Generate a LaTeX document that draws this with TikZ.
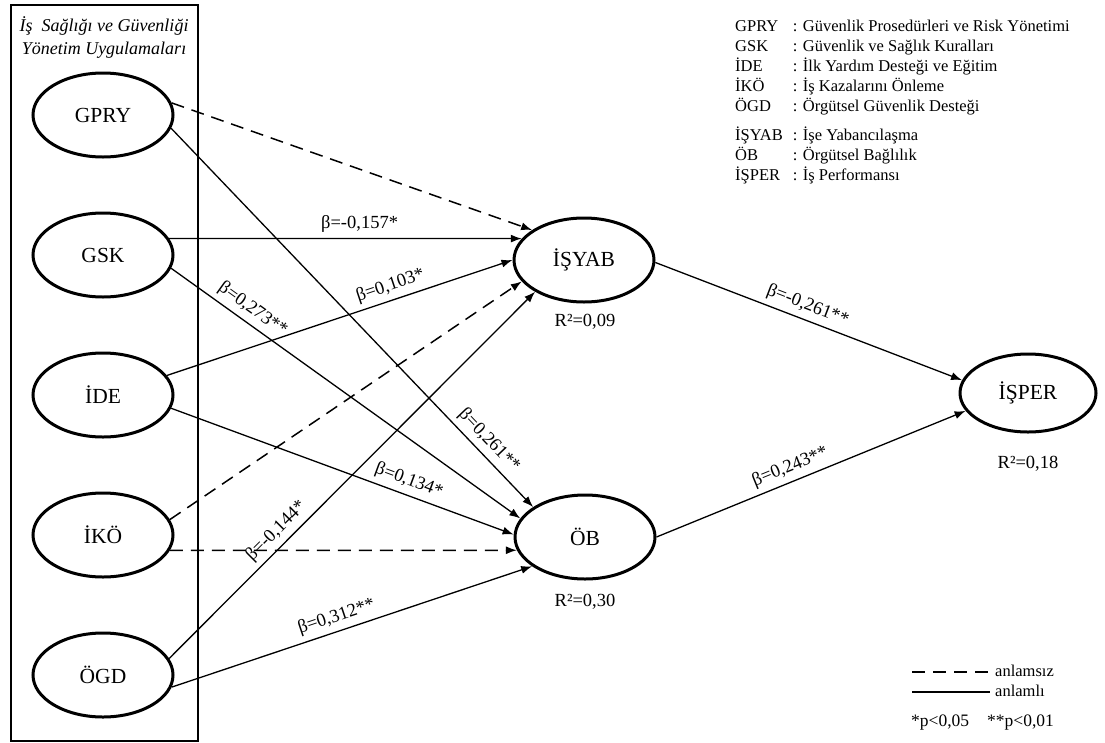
\documentclass[tikz,border=0pt]{standalone}
\usepackage{fontspec}
\setmainfont{Liberation Serif}
\usetikzlibrary{shapes.geometric,arrows.meta}

\begin{document}
\begin{tikzpicture}[x=1pt,y=-1pt]
\tikzset{elips/.style={draw, ellipse, line width=3pt, minimum width=140pt, minimum height=84pt, font=\fontsize{21.5}{24}\selectfont}}
\tikzset{yol/.style={line width=1.3pt, -{Latex[length=11pt,width=8pt]}}}
\tikzset{bos/.style={yol, line width=1.5pt, dash pattern=on 13pt off 8pt}}
\tikzset{etiket/.style={sloped, above=3pt, inner sep=2pt, font=\fontsize{18.5}{20}\selectfont}}
\tikzset{yazi/.style={inner sep=0pt, font=\fontsize{18.5}{20}\selectfont}}
\useasboundingbox (0,0) rectangle (1105,742);
\draw[line width=1.3pt] (11,5) rectangle (198,741);
\node[yazi, align=center, font=\fontsize{18}{23}\selectfont\itshape] (baslik) at (104,38) {İş~ Sağlığı ve Güvenliği\\Yönetim Uygulamaları};
\node[elips] (GPRY) at (103,115) {GPRY};
\node[elips] (GSK) at (103,255) {GSK};
\node[elips] (IDE) at (103,395) {İDE};
\node[elips] (IKO) at (103,535) {İKÖ};
\node[elips] (OGD) at (103,675) {ÖGD};
\node[elips] (ISYAB) at (584,260) {İŞYAB};
\node[elips] (OB) at (585,537) {ÖB};
\node[elips, minimum width=136pt, minimum height=78pt] (ISPER) at (1028,393) {İŞPER};
\node[yazi] (R1) at (585,322) {R²=0,09};
\node[yazi] (R2) at (585,602) {R²=0,30};
\node[yazi] (R3) at (1028,464) {R²=0,18};
\draw[bos] (GPRY.10) -- (ISYAB.150);
\draw[yol] (GPRY.-11) -- node[etiket, pos=0.85] {β=0,261**} (OB.150);
\draw[yol] (GSK.14) -- node[etiket, pos=0.54] {β=-0,157*} (ISYAB.161);
\draw[yol] (GSK.-11) -- node[etiket, pos=0.21] {β=0,273**} (OB.164);
\draw[yol] (IDE.17) -- node[etiket, pos=0.66] {β=0,103*} (ISYAB.180);
\draw[yol] (IDE.-11) -- node[etiket, pos=0.68] {β=0,134*} (OB.178);
\draw[bos] (IKO.13) -- (ISYAB.199);
\draw[bos] (IKO.-13) -- (OB.191);
\draw[yol] (OGD.14) -- node[etiket, pos=0.32] {β=-0,144*} (ISYAB.213);
\draw[yol] (OGD.-10) -- node[etiket, pos=0.47] {β=0,312**} (OB.209);
\draw[yol] (ISYAB.-2) -- node[etiket, pos=0.48] {β=-0,261**} (ISPER.169);
\draw[yol] (OB.0) -- node[etiket, pos=0.45] {β=0,243**} (ISPER.196);
\node[anchor=base west, inner sep=0pt, font=\fontsize{16.5}{20}\selectfont] (kisaltmalar) at (735,31) {\begin{tabular}[t]{@{}l@{\hspace{10pt}}l@{}}
GPRY & : Güvenlik Prosedürleri ve Risk Yönetimi\\
GSK & : Güvenlik ve Sağlık Kuralları\\
İDE & : İlk Yardım Desteği ve Eğitim\\
İKÖ & : İş Kazalarını Önleme\\
ÖGD & : Örgütsel Güvenlik Desteği\\[9pt]
İŞYAB & : İşe Yabancılaşma\\
ÖB & : Örgütsel Bağlılık\\
İŞPER & : İş Performansı
\end{tabular}};
\node[yazi, anchor=west, font=\fontsize{16.5}{20}\selectfont] (anlamsiz) at (995,671) {anlamsız};
\node[yazi, anchor=west, font=\fontsize{16.5}{20}\selectfont] (anlamli) at (995,691) {anlamlı};
\draw[line width=1.5pt, dash pattern=on 13pt off 8pt] (912,672) -- (990,672);
\draw[line width=1.5pt] (912,692) -- (990,692);
\node[yazi, anchor=west, font=\fontsize{17.5}{20}\selectfont] (pdeger) at (911,723) {*p<0,05\hspace{18pt}**p<0,01};
\end{tikzpicture}
\end{document}
